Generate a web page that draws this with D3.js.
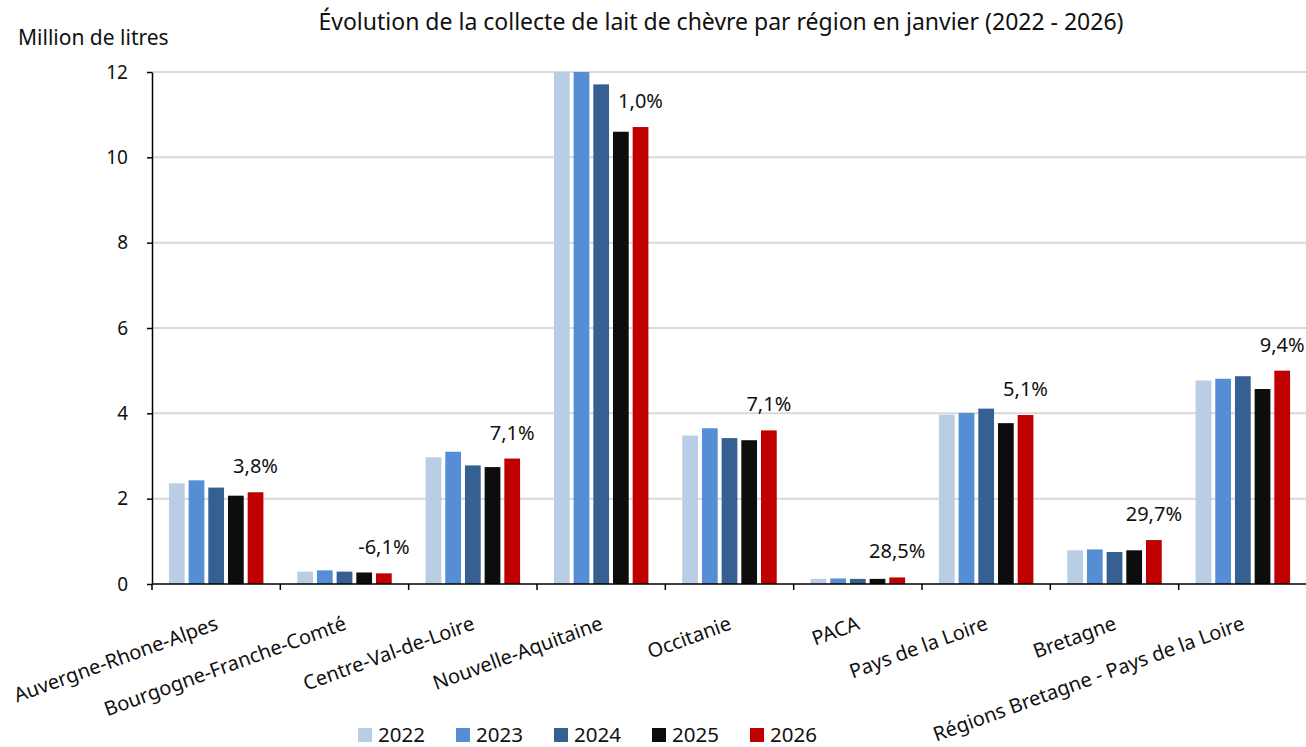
<!DOCTYPE html>
<html>
<head>
<meta charset="utf-8">
<script src="https://cdn.jsdelivr.net/npm/d3@7"></script>
<style>
  body { margin: 0; background: #fff; }
  svg text { font-family: "Noto Sans", sans-serif; fill: #111; }
</style>
</head>
<body>
<div id="chart"></div>
<script>
var categories = ["Auvergne-Rhone-Alpes", "Bourgogne-Franche-Comté", "Centre-Val-de-Loire",
    "Nouvelle-Aquitaine", "Occitanie", "PACA", "Pays de la Loire", "Bretagne",
    "Régions Bretagne - Pays de la Loire"];
var years = ["2022", "2023", "2024", "2025", "2026"];
var v2022 = [2.36, 0.29, 2.97, 12.3, 3.48, 0.12, 3.97, 0.79, 4.77];
var v2023 = [2.43, 0.32, 3.10, 12.4, 3.65, 0.13, 4.01, 0.81, 4.81];
var v2024 = [2.26, 0.29, 2.78, 11.71, 3.42, 0.12, 4.11, 0.75, 4.87];
var v2025 = [2.07, 0.27, 2.74, 10.60, 3.37, 0.12, 3.77, 0.79, 4.57];
var v2026 = [2.15, 0.25, 2.94, 10.71, 3.60, 0.154, 3.96, 1.03, 5.00];
var evolution = ["3,8%", "-6,1%", "7,1%", "1,0%", "7,1%", "28,5%", "5,1%", "29,7%", "9,4%"];
var yTicks = [0, 2, 4, 6, 8, 10, 12];
var colors = ["#B9CDE5", "#558ED5", "#376092", "#0D0D0D", "#C00000"];

var series = [v2022, v2023, v2024, v2025, v2026];

var w = 1306, h = 747;
var plotLeft = 152, plotRight = 1307, plotTop = 72, plotBottom = 584;

var svg = d3.select("#chart").append("svg").attr("width", w).attr("height", h);

var x0 = d3.scaleBand().domain(categories).range([plotLeft, plotRight]).padding(0);
var x1 = d3.scaleBand().domain(years).range([0, x0.bandwidth()])
    .paddingInner(0.2).paddingOuter(0.86);
var y = d3.scaleLinear().domain([0, 12]).range([plotBottom, plotTop]).clamp(true);

// gridlines
svg.append("g").selectAll("line")
    .data(yTicks.filter(function (d) { return d > 0; }))
    .enter().append("line")
    .attr("x1", plotLeft).attr("x2", plotRight)
    .attr("y1", function (d) { return y(d); })
    .attr("y2", function (d) { return y(d); })
    .attr("stroke", "#D9D9D9").attr("stroke-width", 2);

// bars
var groups = svg.append("g").selectAll("g")
    .data(categories)
    .enter().append("g")
    .attr("transform", function (c) { return "translate(" + x0(c) + ",0)"; });

groups.selectAll("rect")
    .data(function (c, i) {
        return years.map(function (yr, k) { return { year: yr, value: series[k][i], k: k }; });
    })
    .enter().append("rect")
    .attr("x", function (d) { return x1(d.year); })
    .attr("width", x1.bandwidth())
    .attr("y", function (d) { return y(d.value); })
    .attr("height", function (d) { return plotBottom - y(d.value); })
    .attr("fill", function (d) { return colors[d.k]; });

// evolution labels above the 2026 bar
svg.append("g").selectAll("text")
    .data(categories)
    .enter().append("text")
    .attr("x", function (c) { return x0(c) + x1("2026") + x1.bandwidth() / 2; })
    .attr("y", function (c, i) { return y(v2026[i]) - 19; })
    .attr("text-anchor", "middle")
    .style("font-size", "20px")
    .text(function (c, i) { return evolution[i]; });

// y axis
var yAxis = svg.append("g")
    .attr("transform", "translate(" + plotLeft + ",0)")
    .call(d3.axisLeft(y).tickValues(yTicks).tickSize(5).tickPadding(19).tickSizeOuter(0));
yAxis.select(".domain").attr("stroke", "#000").attr("stroke-width", 1.5);
yAxis.selectAll(".tick line").attr("stroke", "#000").attr("stroke-width", 1.5);
yAxis.selectAll("text").style("font-size", "19px").style("font-family", "Noto Sans").attr("fill", "#111");

// x axis
var xAxis = svg.append("g").attr("transform", "translate(0," + plotBottom + ")");
xAxis.append("line")
    .attr("x1", plotLeft).attr("x2", plotRight)
    .attr("stroke", "#000").attr("stroke-width", 1.5);
xAxis.selectAll(".xtick")
    .data(categories)
    .enter().append("line")
    .attr("class", "xtick")
    .attr("x1", function (c) { return x0(c); })
    .attr("x2", function (c) { return x0(c); })
    .attr("y1", 0).attr("y2", 6)
    .attr("stroke", "#000").attr("stroke-width", 1.5);
xAxis.selectAll(".xlabel")
    .data(categories)
    .enter().append("text")
    .attr("class", "xlabel")
    .attr("transform", function (c) {
        return "translate(" + (x0(c) + x0.bandwidth() / 2 + 3) + ",45) rotate(-20)";
    })
    .attr("text-anchor", "end")
    .style("font-size", "20px")
    .text(function (c) { return c; });

// titles
svg.append("text")
    .attr("x", 721).attr("y", 30)
    .attr("text-anchor", "middle")
    .style("font-size", "23px")
    .text("Évolution de la collecte de lait de chèvre par région en janvier (2022 - 2026)");
svg.append("text")
    .attr("x", 18).attr("y", 45)
    .style("font-size", "21px")
    .text("Million de litres");

// legend
var legend = svg.append("g").selectAll("g")
    .data(years)
    .enter().append("g")
    .attr("transform", function (d, i) { return "translate(" + (358 + i * 98) + ",728)"; });
legend.append("rect")
    .attr("width", 14).attr("height", 14)
    .attr("fill", function (d, i) { return colors[i]; });
legend.append("text")
    .attr("x", 20).attr("y", 14)
    .style("font-size", "20.5px")
    .text(function (d) { return d; });
</script>
</body>
</html>
